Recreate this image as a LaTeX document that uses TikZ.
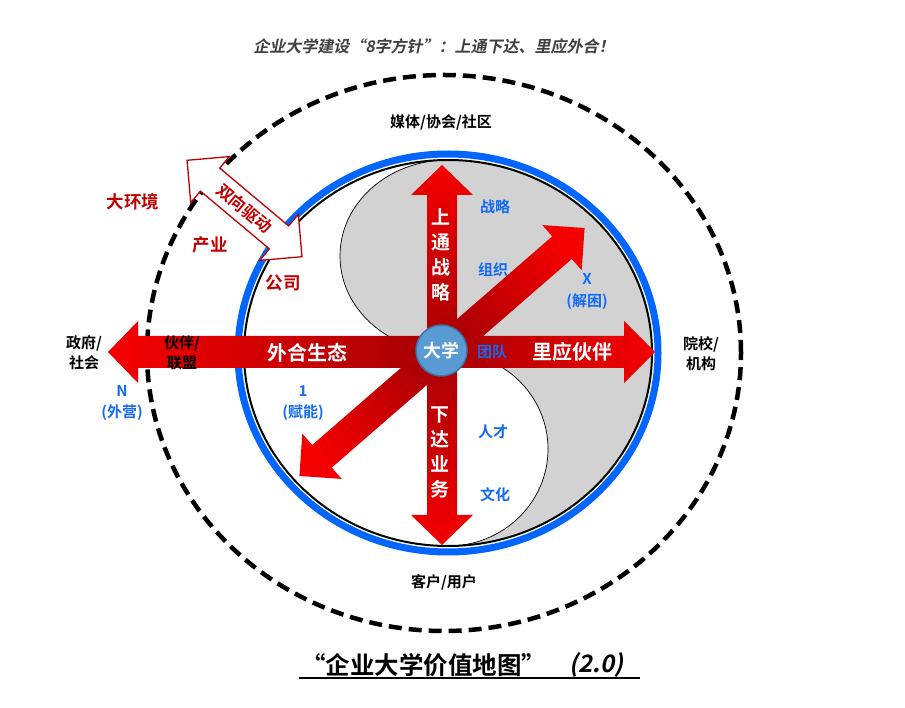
\documentclass[tikz,border=0pt]{standalone}
\usepackage{fontspec}
\setmainfont{Noto Sans CJK SC}[BoldFont={* Bold}]
\newfontfamily\slantfont{Noto Sans CJK SC Bold}[FakeSlant=0.2]
\definecolor{armred}{RGB}{245,0,0}
\definecolor{armdark}{RGB}{165,0,5}
\definecolor{ringblue}{RGB}{0,102,255}
\definecolor{hubblue}{RGB}{91,155,213}
\definecolor{hubline}{RGB}{65,113,156}
\definecolor{lblue}{RGB}{20,105,245}
\definecolor{dred}{RGB}{192,0,0}
\definecolor{ygray}{RGB}{210,210,210}
\definecolor{tgray}{RGB}{64,64,64}

\begin{document}
\begin{tikzpicture}[x=1pt,y=1pt,line join=miter,
  blk/.style={font=\bfseries\fontsize{15}{20}\selectfont,align=center},
  blu/.style={text=lblue,font=\bfseries\fontsize{15}{21}\selectfont,align=center},
  rd/.style={text=dred,font=\bfseries\fontsize{17.5}{20}\selectfont},
  wt/.style={text=white,font=\bfseries\fontsize{19}{25}\selectfont,align=center}]
\useasboundingbox (0,0) rectangle (905,707);
\coordinate (hub) at (442,355);
% outer ring
\draw[line width=4.5pt,dash pattern=on 13pt off 7pt] (444,354) ellipse[x radius=297,y radius=278];
% inner ring with the S-shaped grey part
\filldraw[fill=ygray,draw=black,line width=0.7pt] (448,547)
  arc[start angle=90,end angle=-90,x radius=204,y radius=193]
  arc[start angle=-90,end angle=90,x radius=100,y radius=97]
  arc[start angle=270,end angle=90,x radius=108,y radius=96] -- cycle;
\draw[line width=2pt] (448,354) ellipse[x radius=204,y radius=193];
\draw[ringblue,line width=7pt] (448,354) ellipse[x radius=210,y radius=199];
% diagonal arms
\shade[top color=armred,bottom color=armdark,shading angle=-49]
  (432.2,366.3) -- (552.2,470.6) -- (542.3,481.9) -- (584.6,479.0) -- (581.7,436.7) -- (571.8,448.0) -- (451.8,343.7) -- cycle;
\shade[top color=armdark,bottom color=armred,shading angle=-49]
  (451.8,343.7) -- (331.8,239.4) -- (341.7,228.1) -- (299.4,231.0) -- (302.3,273.3) -- (312.2,262.0) -- (432.2,366.3) -- cycle;
% cross arms
\shade[left color=armred,right color=armdark]
  (442,371) -- (138,371) -- (138,386) -- (108,355) -- (138,324) -- (138,339) -- (442,339) -- cycle;
\shade[left color=armdark,right color=armred]
  (442,371) -- (624,371) -- (624,386) -- (655,355) -- (624,324) -- (624,339) -- (442,339) -- cycle;
\shade[bottom color=armdark,top color=armred]
  (427,355) -- (427,512) -- (411,512) -- (442,542) -- (473,512) -- (457,512) -- (457,355) -- cycle;
\shade[top color=armdark,bottom color=armred]
  (427,355) -- (427,192) -- (411,192) -- (442,162) -- (473,192) -- (457,192) -- (457,355) -- cycle;
\node[circle,fill=hubblue,draw=hubline,line width=1.5pt,minimum size=51pt,inner sep=0pt,
  text=white,font=\bfseries\fontsize{18}{18}\selectfont] (uni) at (441.5,356.5) {大学};
% texts on the arms
\node[wt,font=\bfseries\fontsize{20}{20}\selectfont] (outer) at (307,354) {外合生态};
\node[wt,font=\bfseries\fontsize{20}{20}\selectfont] (inner) at (572,355) {里应伙伴};
\node[wt] (upward) at (441,452) {上\\通\\战\\略};
\node[wt] (downward) at (440,255) {下\\达\\业\\务};
% blue labels
\node[blu] (strat) at (495,500) {战略};
\node[blu] (org) at (493,437) {组织};
\node[blu] (team) at (492,355) {团队};
\node[blu] (talent) at (493,275) {人才};
\node[blu] (culture) at (495,212) {文化};
\node[blu,font=\bfseries\fontsize{15}{22}\selectfont] (xsol) at (587,416) {X\\(解困)};
\node[blu] (nout) at (122,304) {N\\(外营)};
\node[blu] (oneen) at (303,304) {1\\(赋能)};
% black labels
\node[blk] (gov) at (84,354) {政府/\\社会};
\node[blk] (ally) at (182,354) {伙伴/\\联盟};
\node[blk] (school) at (701,353) {院校/\\机构};
\node[blk] (media) at (441,585) {媒体/协会/社区};
\node[blk] (client) at (444,125) {客户/用户};
% red labels
\node[rd] (env) at (133,505) {大环境};
\node[rd] (ind) at (210,462) {产业};
\node[rd] (comp) at (283,424) {公司};
% two-way arrow
\filldraw[draw=dred,fill=white,line width=1.3pt]
  (187.1,546.7) -- (229.3,550.4) -- (219.7,538.9) -- (288.6,481.1) -- (298.3,492.6) -- (302.0,450.3)
  -- (259.7,446.6) -- (269.4,458.1) -- (200.4,515.9) -- (190.7,504.4) -- cycle;
\node[rotate=-40,inner sep=0pt,text=dred,font=\bfseries\fontsize{16.5}{16.5}\selectfont] (drive) at (244.5,498.5) {双向驱动};
% titles
\node[text=tgray,font=\slantfont\fontsize{16}{18}\selectfont] (head) at (434,661)
  {企业大学建设“8字方针”：上通下达、里应外合！};
\node[font=\bfseries\fontsize{24.5}{26}\selectfont] (maptitle) at (423.5,42) {“企业大学价值地图”};
\node[font=\slantfont\fontsize{24}{26}\selectfont] (ver) at (596.5,42) {(2.0)};
\draw[line width=2pt] (299,29) -- (640,29);
\end{tikzpicture}
\end{document}
